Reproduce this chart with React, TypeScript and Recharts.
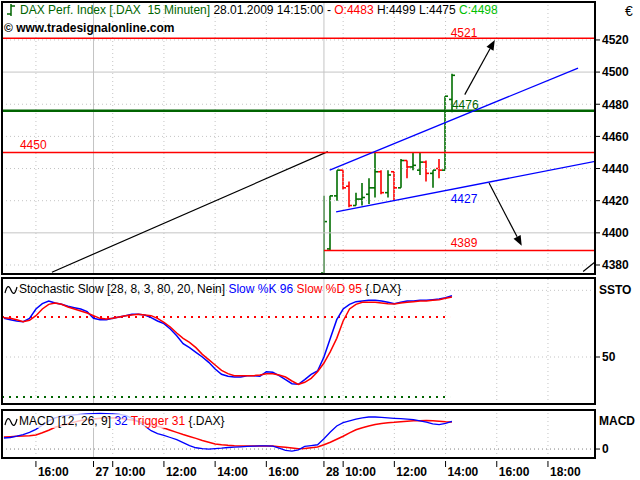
import React from 'react';
import { ComposedChart, Bar, Line, XAxis, YAxis, ReferenceLine, ReferenceDot } from 'recharts';

const FONT = '"Liberation Sans", Arial, Helvetica, sans-serif';

// x = number of the 15 minute bar, 0 = 28.01.2009 09:15
const xTicks = [-45, -36, -33, -25, -17, -9, 0, 3, 11, 19, 27, 35];
const xTickLabels = ['16:00', '27', '10:00', '12:00', '14:00', '16:00', '28', '10:00', '12:00', '14:00', '16:00', '18:00'];
const dayStarts = [-36, 0];
const hourLines = [-45, -33, -25, -17, -9, 3, 11, 19, 27, 35];

// DAX 15 min bars, 28.01. 09:15 - 14:15
const barIdx = [0, 1, 2, 3, 4, 5, 6, 7, 8, 9, 10, 11, 12, 13, 14, 15, 16, 17, 18, 19, 20];
const opens = [4375, 4390, 4423, 4439, 4429, 4417, 4421, 4424, 4428, 4438, 4425, 4438, 4428, 4445, 4441, 4439, 4444, 4437, 4440, 4439, 4483];
const highs = [4423, 4423, 4439, 4439, 4432, 4425, 4431, 4434, 4450, 4439, 4439, 4438, 4446, 4445, 4450, 4450, 4445, 4439, 4446, 4485, 4499];
const lows = [4375, 4389, 4420, 4427, 4416, 4417, 4417, 4418, 4422, 4424, 4422, 4420, 4428, 4434, 4439, 4436, 4432, 4428, 4434, 4439, 4475];
const closes = [4407, 4423, 4439, 4428, 4417, 4421, 4422, 4428, 4438, 4425, 4436, 4428, 4445, 4441, 4442, 4444, 4437, 4439, 4439, 4485, 4498];

const priceTicks = [4380, 4400, 4420, 4440, 4460, 4480, 4500, 4520];
const priceGridDotted = [4380, 4420, 4440, 4460, 4480, 4520];
const priceGridSolid = [4400, 4500];

// drawn lines: [x1, y1, x2, y2]
const blackTrend = [-42.5, 4375.5, 0.6, 4450.5];
const blackTrend2 = [40.5, 4376, 42.4, 4382];
const upperChannel = [0.9, 4439, 39.7, 4502.5];
const lowerChannel = [1.9, 4413, 42.4, 4444.5];
const arrowUp = [22, 4486, 26.7, 4520];
const arrowDown = [25.8, 4431, 30.9, 4392];
const levelLines = [4521, 4450];
const supportLine = [0, 4389, 42.4, 4389];
const greenLine = 4476;

// indicators, bar -50 .. 20
const oscIdx = [
  -50, -49, -48, -47, -46, -45, -44, -43, -42, -41,
  -40, -39, -38, -37, -36, -35, -34, -33, -32, -31,
  -30, -29, -28, -27, -26, -25, -24, -23, -22, -21,
  -20, -19, -18, -17, -16, -15, -14, -13, -12, -11,
  -10, -9, -8, -7, -6, -5, -4, -3, -2, -1,
  0, 1, 2, 3, 4, 5, 6, 7, 8, 9,
  10, 11, 12, 13, 14, 15, 16, 17, 18, 19, 20,
];
const slowK = [
  79, 78, 77, 76.5, 79, 86, 90, 92, 90.5, 89.5,
  88, 87, 86, 84, 79, 78, 78, 79, 80, 81,
  82, 82, 81.5, 79.5, 77, 75, 71, 66, 60, 57,
  53.5, 50, 46, 41, 37, 35.5, 35, 35, 36, 36,
  35.5, 39, 38.5, 36, 33, 30, 29.5, 33, 37, 39.5,
  50, 64, 78, 86, 89.5, 91.5, 92, 92.5, 92.5, 92,
  91, 90, 91, 92, 92, 92.5, 92.5, 93, 93.5, 94.5, 96,
];
const slowD = [
  79.5, 79, 78, 76.5, 77.5, 81, 86, 89.5, 90.5, 89.5,
  87.5, 86, 84.5, 83, 81, 79, 78.5, 79, 80, 81,
  81.5, 82, 81.5, 81, 79, 76, 72.5, 68, 64, 61,
  57, 52, 48, 44, 40, 37.5, 36, 36, 36, 36,
  36.5, 37.5, 37.5, 36.5, 35, 32, 29.5, 31, 34, 39,
  45.5, 54, 64, 77, 86, 89.5, 91, 91, 91, 90.5,
  90, 89.7, 90.5, 91, 91.5, 92, 92, 92.5, 93, 94, 95,
];
const macdLine = [
  12.9, 13.5, 15, 17, 19.5, 23, 28, 33, 36.5, 38.5,
  39.5, 40, 40.5, 41, 41.5, 41.7, 41.5, 41, 40.5, 39.5,
  36, 32, 27, 21.5, 18, 16, 13.5, 11, 7.5, 4,
  1.5, 0.5, 0, 0.5, 1, 1.8, 2.3, 2.6, 3, 3.3,
  3.6, 3.6, 3.5, 1, -1.5, -2.4, -1, 3, 4, 5,
  12, 20, 27, 31, 33, 35, 36.5, 37.5, 37.5, 37,
  36.5, 36, 35.5, 35, 34.5, 33, 31.5, 29.5, 28.6, 30, 32.5,
];
const triggerLine = [
  14, 14.5, 15, 15.2, 15.5, 16.5, 19, 22, 25.5, 27.5,
  29.5, 31.5, 33.5, 34.5, 35.3, 36, 36.3, 36.5, 36, 35,
  34, 32.5, 30.5, 28.5, 26.5, 24.6, 22, 19.5, 17, 14.7,
  12.5, 10, 8, 6, 5, 4.3, 3.8, 3.6, 3.6, 3.6,
  3.6, 3.6, 3.6, 2.8, 2, 1.2, 0.3, 0.5, 1.5, 2.5,
  5, 8, 11.5, 15, 19, 22.5, 25, 27, 28.6, 30,
  30.8, 31.3, 32, 32.5, 33, 33.2, 33.3, 33, 32.5, 32, 31.7,
];

const X_DOMAIN = [-50.3, 42.35];
const PRICE_DOMAIN = [4374.4, 4543.6];
const STOCH_DOMAIN = [14.75, 109.25];
const MACD_DOMAIN = [-10.5, 45.7];

const BAR_GREEN = '#006e00';
const RED = '#ff0000';
const BLUE = '#0000ff';
const GRID = '#c4c4c4';

const priceData = barIdx.map((i, n) => ({
  i,
  range: [lows[n], highs[n]],
  open: opens[n],
  high: highs[n],
  low: lows[n],
  close: closes[n],
}));

const oscData = oscIdx.map((i, n) => ({
  i,
  k: slowK[n],
  d: slowD[n],
  macd: macdLine[n],
  trig: triggerLine[n],
}));

function OhlcBar(props: any) {
  const { x, y, width, height, payload } = props;
  if (!payload) return null;
  const top = Math.min(y, y + height);
  const bottom = Math.max(y, y + height);
  const span = payload.high - payload.low || 1;
  const toY = (v: number) => top + ((payload.high - v) / span) * (bottom - top);
  const cx = Math.round(x + width / 2);
  const color = payload.close >= payload.open ? BAR_GREEN : RED;
  return (
    <g stroke={color} strokeWidth={1.6}>
      <line x1={cx} x2={cx} y1={top} y2={bottom} />
      <line x1={cx - 3} x2={cx} y1={toY(payload.open)} y2={toY(payload.open)} />
      <line x1={cx} x2={cx + 3} y1={toY(payload.close)} y2={toY(payload.close)} />
    </g>
  );
}

function ArrowShape(props: any) {
  const { x1, y1, x2, y2 } = props;
  const a = Math.atan2(y2 - y1, x2 - x1);
  const len = 10;
  const w = 4;
  const bx = x2 - len * Math.cos(a);
  const by = y2 - len * Math.sin(a);
  const px = -Math.sin(a) * w;
  const py = Math.cos(a) * w;
  return (
    <g>
      <line x1={x1} y1={y1} x2={bx} y2={by} stroke="#000" strokeWidth={1.2} />
      <polygon points={`${x2},${y2} ${bx + px},${by + py} ${bx - px},${by - py}`} fill="#000" />
    </g>
  );
}

function textShape(txt: string, color: string) {
  return (p: any) => (
    <text x={p.cx} y={p.cy} fill={color} fontSize={12} fontFamily={FONT}>
      {txt}
    </text>
  );
}

function TimeTick(props: any) {
  const { x, y, payload } = props;
  const n = xTicks.indexOf(payload.value);
  return (
    <g>
      <line x1={x} x2={x} y1={y + 3} y2={y + 9} stroke="#000" />
      <text x={x + 2} y={y + 18} fill="#000" fontSize={12} fontWeight="bold" fontFamily={FONT}>
        {xTickLabels[n]}
      </text>
    </g>
  );
}

const yTick = { fill: '#000', fontSize: 12, fontWeight: 'bold', fontFamily: FONT };

function timeGrid() {
  return [
    ...hourLines.map((v) => (
      <ReferenceLine key={'h' + v} x={v} stroke={GRID} strokeDasharray="1 3" ifOverflow="hidden" />
    )),
    ...dayStarts.map((v) => <ReferenceLine key={'d' + v} x={v} stroke={GRID} ifOverflow="hidden" />),
  ];
}

function seg(s: number[]) {
  return [
    { x: s[0], y: s[1] },
    { x: s[2], y: s[3] },
  ];
}

function Frame({ top, height }: { top: number; height: number }) {
  return (
    <div
      style={{
        position: 'absolute',
        left: 1,
        top,
        width: 595,
        height,
        border: '2px solid #000',
        boxSizing: 'border-box',
        pointerEvents: 'none',
      }}
    />
  );
}

function Wave() {
  return (
    <svg width={14} height={10} style={{ verticalAlign: 'middle', marginRight: 1 }}>
      <path d="M1 8 C3 0 5 0 7 5 C9 10 11 10 13 2" fill="none" stroke="#000" strokeWidth={1.2} />
    </svg>
  );
}

export default function App() {
  return (
    <div
      style={{
        position: 'absolute',
        left: 0,
        top: 0,
        width: 640,
        height: 480,
        overflow: 'hidden',
        background: '#fff',
        fontFamily: FONT,
      }}
    >
      {/* price panel */}
      <div style={{ position: 'absolute', left: 0, top: 0 }}>
        <ComposedChart width={640} height={276} data={priceData} margin={{ top: 2, right: 0, bottom: 2, left: 2 }}>
          <XAxis type="number" dataKey="i" domain={X_DOMAIN} allowDataOverflow hide />
          <YAxis
            orientation="right"
            width={45}
            domain={PRICE_DOMAIN}
            allowDataOverflow
            ticks={priceTicks}
            interval={0}
            axisLine={false}
            tickLine={{ stroke: '#000' }}
            tickSize={5}
            tickMargin={2}
            tick={yTick}
          />
          {timeGrid()}
          {priceGridDotted.map((v) => (
            <ReferenceLine key={'pg' + v} y={v} stroke={GRID} strokeDasharray="1 3" ifOverflow="hidden" />
          ))}
          {priceGridSolid.map((v) => (
            <ReferenceLine key={'ps' + v} y={v} stroke={GRID} ifOverflow="hidden" />
          ))}
          <Bar dataKey="range" barSize={6} shape={OhlcBar} isAnimationActive={false} />
          <ReferenceLine segment={seg(blackTrend)} stroke="#000" strokeWidth={1.2} ifOverflow="hidden" />
          <ReferenceLine segment={seg(blackTrend2)} stroke="#000" strokeWidth={1.2} ifOverflow="hidden" />
          {levelLines.map((v) => (
            <ReferenceLine key={'l' + v} y={v} stroke={RED} strokeWidth={1.5} ifOverflow="hidden" />
          ))}
          <ReferenceLine segment={seg(supportLine)} stroke={RED} strokeWidth={1.5} ifOverflow="hidden" />
          <ReferenceLine y={greenLine} stroke="#006400" strokeWidth={2.5} ifOverflow="hidden" />
          <ReferenceLine segment={seg(upperChannel)} stroke={BLUE} strokeWidth={1.3} ifOverflow="hidden" />
          <ReferenceLine segment={seg(lowerChannel)} stroke={BLUE} strokeWidth={1.3} ifOverflow="hidden" />
          <ReferenceLine segment={seg(arrowUp)} shape={ArrowShape} ifOverflow="hidden" />
          <ReferenceLine segment={seg(arrowDown)} shape={ArrowShape} ifOverflow="hidden" />
          <ReferenceDot x={19.8} y={4522} r={0} shape={textShape('4521', RED)} ifOverflow="visible" />
          <ReferenceDot x={20} y={4477} r={0} shape={textShape('4476', '#006400')} ifOverflow="visible" />
          <ReferenceDot x={19.8} y={4418.5} r={0} shape={textShape('4427', BLUE)} ifOverflow="visible" />
          <ReferenceDot x={19.8} y={4391.2} r={0} shape={textShape('4389', RED)} ifOverflow="visible" />
          <ReferenceDot x={-47.5} y={4452.2} r={0} shape={textShape('4450', RED)} ifOverflow="visible" />
        </ComposedChart>
      </div>
      <Frame top={1} height={274} />
      <div style={{ position: 'absolute', left: 6, top: 3, fontSize: 12, lineHeight: '14px', whiteSpace: 'pre', color: '#006400' }}>
        <svg width={10} height={13} style={{ verticalAlign: 'top', marginRight: 4 }}>
          <line x1={5} x2={5} y1={1} y2={13} stroke="#006400" strokeWidth={1.5} />
          <line x1={1} x2={5} y1={11} y2={11} stroke="#006400" strokeWidth={1.5} />
          <line x1={5} x2={9} y1={3} y2={3} stroke="#006400" strokeWidth={1.5} />
        </svg>
        <span>DAX Perf. Index [.DAX  15 Minuten] </span>
        <span style={{ color: '#000' }}>28.01.2009 14:15:00 - </span>
        <span style={{ color: RED }}>O:4483</span>
        <span style={{ color: '#000' }}> H:4499 L:4475 </span>
        <span style={{ color: '#00c000' }}>C:4498</span>
      </div>
      <div style={{ position: 'absolute', left: 4, top: 21, fontSize: 12, fontWeight: 'bold', lineHeight: '14px', whiteSpace: 'pre', color: '#000' }}>
        © www.tradesignalonline.com
      </div>
      <div style={{ position: 'absolute', left: 625, top: 3, fontSize: 14, color: '#000' }}>€</div>

      {/* stochastic panel */}
      <div style={{ position: 'absolute', left: 0, top: 278 }}>
        <ComposedChart width={640} height={126} data={oscData} margin={{ top: 0, right: 0, bottom: 0, left: 2 }}>
          <XAxis type="number" dataKey="i" domain={X_DOMAIN} allowDataOverflow hide />
          <YAxis
            orientation="right"
            width={45}
            domain={STOCH_DOMAIN}
            allowDataOverflow
            ticks={[50]}
            axisLine={false}
            tickLine={{ stroke: '#000' }}
            tickSize={5}
            tickMargin={2}
            tick={yTick}
          />
          {timeGrid()}
          <ReferenceLine y={50} stroke={GRID} strokeDasharray="1 3" ifOverflow="hidden" />
          <ReferenceLine y={100} stroke={GRID} strokeDasharray="1 3" ifOverflow="hidden" />
          <ReferenceLine segment={seg([-50.3, 80, 19.7, 80])} stroke={RED} strokeWidth={2} strokeDasharray="2 5" ifOverflow="hidden" />
          <ReferenceLine segment={seg([-50.3, 20, 19.7, 20])} stroke="#006400" strokeWidth={2} strokeDasharray="2 5" ifOverflow="hidden" />
          <Line dataKey="k" stroke={BLUE} strokeWidth={1.5} dot={false} isAnimationActive={false} />
          <Line dataKey="d" stroke={RED} strokeWidth={1.5} dot={false} isAnimationActive={false} />
        </ComposedChart>
      </div>
      <Frame top={277} height={128} />
      <div style={{ position: 'absolute', left: 4, top: 282, fontSize: 12, lineHeight: '14px', whiteSpace: 'pre', color: '#000' }}>
        <Wave />
        <span>Stochastic Slow [28, 8, 3, 80, 20, Nein] </span>
        <span style={{ color: BLUE }}>Slow %K 96 </span>
        <span style={{ color: RED }}>Slow %D 95 </span>
        <span>{'{.DAX}'}</span>
      </div>
      <div style={{ position: 'absolute', left: 599, top: 283, fontSize: 12, fontWeight: 'bold', whiteSpace: 'pre' }}>SSTO</div>

      {/* MACD panel */}
      <div style={{ position: 'absolute', left: 0, top: 410 }}>
        <ComposedChart width={640} height={70} data={oscData} margin={{ top: 0, right: 0, bottom: 0, left: 2 }}>
          <XAxis
            type="number"
            dataKey="i"
            domain={X_DOMAIN}
            allowDataOverflow
            ticks={xTicks}
            interval={0}
            height={22}
            axisLine={false}
            tickLine={false}
            tickSize={0}
            tickMargin={0}
            tick={<TimeTick />}
          />
          <YAxis
            orientation="right"
            width={45}
            domain={MACD_DOMAIN}
            allowDataOverflow
            ticks={[0]}
            axisLine={false}
            tickLine={{ stroke: '#000' }}
            tickSize={5}
            tickMargin={2}
            tick={yTick}
          />
          {timeGrid()}
          <ReferenceLine y={0} stroke="#808080" strokeDasharray="1 3" ifOverflow="hidden" />
          <Line dataKey="trig" stroke={RED} strokeWidth={1.5} dot={false} isAnimationActive={false} />
          <Line dataKey="macd" stroke={BLUE} strokeWidth={1.3} dot={false} isAnimationActive={false} />
        </ComposedChart>
      </div>
      <Frame top={409} height={50} />
      <div style={{ position: 'absolute', left: 4, top: 414, fontSize: 12, lineHeight: '14px', whiteSpace: 'pre', color: '#000' }}>
        <span style={{ background: 'rgba(255,255,255,0.75)' }}>
          <Wave />
          <span>MACD [12, 26, 9] </span>
          <span style={{ color: BLUE }}>32 </span>
          <span style={{ color: RED }}>Trigger 31 </span>
          <span>{'{.DAX}'}</span>
        </span>
      </div>
      <div style={{ position: 'absolute', left: 599, top: 414, fontSize: 12, fontWeight: 'bold', whiteSpace: 'pre' }}>MACD</div>
    </div>
  );
}
